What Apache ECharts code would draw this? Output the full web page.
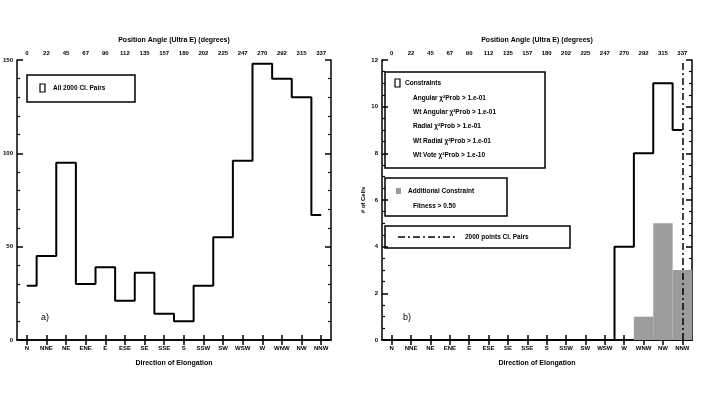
<!DOCTYPE html>
<html><head><meta charset="utf-8">
<script src="https://cdn.jsdelivr.net/npm/echarts@6/dist/echarts.min.js"></script>
<style>html,body{margin:0;padding:0;background:#fff}#c{width:722px;height:400px}</style>
</head><body><div id="c"></div>
<script>
const directions = ['N','NNE','NE','ENE','E','ESE','SE','SSE','S','SSW','SW','WSW','W','WNW','NW','NNW'];
const angleLabels = ['0','22','45','67','90','112','135','157','180','202','225','247','270','292','315','337'];
const allPairs = [29, 45, 95, 30, 39, 21, 36, 14, 10, 29, 55, 96, 148, 140, 130, 67];
const constrained = [0, 0, 0, 0, 0, 0, 0, 0, 0, 0, 0, 0, 4, 8, 11, 9];
const additional = [0, 0, 0, 0, 0, 0, 0, 0, 0, 0, 0, 0, 0, 1, 5, 3];
const markerDirection = 'NNW';
const constraintLines = [
  'Angular \u03c7\u00b2Prob > 1.e-01',
  'Wt Angular \u03c7\u00b2Prob > 1.e-01',
  'Radial \u03c7\u00b2Prob > 1.e-01',
  'Wt Radial \u03c7\u00b2Prob > 1.e-01',
  'Wt Vote \u03c7\u00b2Prob > 1.e-10'
];

const FONT = 'Liberation Sans';
const lbl = {fontFamily: FONT, fontWeight: 'bold', fontSize: 6, color: '#000'};
const axLine = {show: true, lineStyle: {color: '#000', width: 1.5}};

function xAxes(gi) {
  return [
    {type: 'category', gridIndex: gi, data: directions, position: 'bottom', boundaryGap: true,
     axisLine: axLine, axisTick: {show: true, inside: true, alignWithLabel: true, length: 5, lineStyle: {width: 1.5, color: '#000'}},
     axisLabel: Object.assign({interval: 0, margin: 5}, lbl),
     name: 'Direction of Elongation', nameLocation: 'middle', nameGap: 20,
     nameTextStyle: {fontFamily: FONT, fontWeight: 'bold', fontSize: 7, color: '#000'}},
    {type: 'category', gridIndex: gi, data: angleLabels, position: 'top', boundaryGap: true,
     axisLine: axLine, axisTick: {show: true, inside: true, alignWithLabel: true, length: 5, lineStyle: {width: 1.5, color: '#000'}},
     axisLabel: Object.assign({interval: 0, margin: 4}, lbl),
     name: 'Position Angle (Ultra E) (degrees)', nameLocation: 'middle', nameGap: 16,
     nameTextStyle: {fontFamily: FONT, fontWeight: 'bold', fontSize: 7, color: '#000'}}
  ];
}
function yAxes(gi, max, interval, minorSplit, name) {
  return [
    {type: 'value', gridIndex: gi, min: 0, max: max, interval: interval, position: 'left',
     axisLine: axLine, splitLine: {show: false},
     axisTick: {show: true, inside: true, length: 6, lineStyle: {width: 1.5, color: '#000'}},
     minorTick: {show: true, splitNumber: minorSplit, length: 3, lineStyle: {width: 1.2, color: '#000'}},
     axisLabel: Object.assign({margin: 4}, lbl),
     name: name, nameLocation: 'middle', nameGap: 16, nameRotate: 90,
     nameTextStyle: {fontFamily: FONT, fontWeight: 'bold', fontSize: 6, color: '#000'}},
    {type: 'value', gridIndex: gi, min: 0, max: max, interval: interval, position: 'right',
     axisLine: axLine, splitLine: {show: false},
     axisTick: {show: true, inside: true, length: 6, lineStyle: {width: 1.5, color: '#000'}},
     minorTick: {show: true, splitNumber: minorSplit, length: 3, lineStyle: {width: 1.2, color: '#000'}},
     axisLabel: {show: false}}
  ];
}

const chart = echarts.init(document.getElementById('c'), null, {renderer: 'canvas'});
const txt = (x, y, s, extra) => ({type: 'text', left: x, top: y, style: Object.assign({text: s, fontFamily: FONT, fontWeight: 'bold', fontSize: 6.5, fill: '#000'}, extra || {})});
chart.setOption({
  animation: false,
  backgroundColor: '#fff',
  grid: [
    {left: 17, right: 391, top: 60, bottom: 60},
    {left: 382, right: 30, top: 60, bottom: 60}
  ],
  xAxis: xAxes(0).concat(xAxes(1)),
  yAxis: yAxes(0, 150, 50, 5, '').concat(yAxes(1, 12, 2, 4, '# of Cells')),
  series: [
    {type: 'line', xAxisIndex: 0, yAxisIndex: 0, data: allPairs, step: 'middle', symbol: 'none',
     lineStyle: {color: '#000', width: 2}},
    {type: 'bar', xAxisIndex: 2, yAxisIndex: 2, data: additional, barWidth: '100%', barGap: '0%',
     itemStyle: {color: '#9c9c9c'}},
    {type: 'line', xAxisIndex: 2, yAxisIndex: 2, data: constrained, step: 'middle', symbol: 'none',
     lineStyle: {color: '#000', width: 2},
     markLine: {silent: true, symbol: 'none', label: {show: false},
       lineStyle: {color: '#000', width: 1.5, type: [7, 3, 2, 3]},
       data: [{xAxis: markerDirection}]}}
  ],
  graphic: [
    {type: 'rect', shape: {x: 27, y: 75, width: 108, height: 27}, style: {fill: 'none', stroke: '#000', lineWidth: 1.5}},
    {type: 'rect', shape: {x: 40, y: 84, width: 5, height: 8}, style: {fill: 'none', stroke: '#000', lineWidth: 1.2}},
    txt(53, 85, 'All 2000 Cl. Pairs'),
    txt(41, 313, 'a)', {fontSize: 9, fontWeight: 'normal'}),
    txt(403, 313, 'b)', {fontSize: 9, fontWeight: 'normal'}),
    {type: 'rect', shape: {x: 385, y: 72, width: 160, height: 96}, style: {fill: '#fff', stroke: '#000', lineWidth: 1.5}},
    {type: 'rect', shape: {x: 395, y: 79, width: 5, height: 8}, style: {fill: 'none', stroke: '#000', lineWidth: 1.2}},
    txt(405, 80, 'Constraints'),
    txt(413, 95, constraintLines[0]),
    txt(413, 109, constraintLines[1]),
    txt(413, 123, constraintLines[2]),
    txt(413, 138, constraintLines[3]),
    txt(413, 152, constraintLines[4]),
    {type: 'rect', shape: {x: 385, y: 178, width: 122, height: 38}, style: {fill: '#fff', stroke: '#000', lineWidth: 1.5}},
    {type: 'rect', shape: {x: 396, y: 188, width: 5, height: 6}, style: {fill: '#9c9c9c', stroke: 'none'}},
    txt(408, 188, 'Additional Constraint'),
    txt(413, 203, 'Fitness > 0.50'),
    {type: 'rect', shape: {x: 385, y: 226, width: 185, height: 22}, style: {fill: '#fff', stroke: '#000', lineWidth: 1.5}},
    {type: 'line', shape: {x1: 398, y1: 237, x2: 457, y2: 237}, style: {stroke: '#000', lineWidth: 1.5, lineDash: [7, 3, 2, 3]}},
    txt(465, 234, '2000 points Cl. Pairs')
  ]
});
</script></body></html>
